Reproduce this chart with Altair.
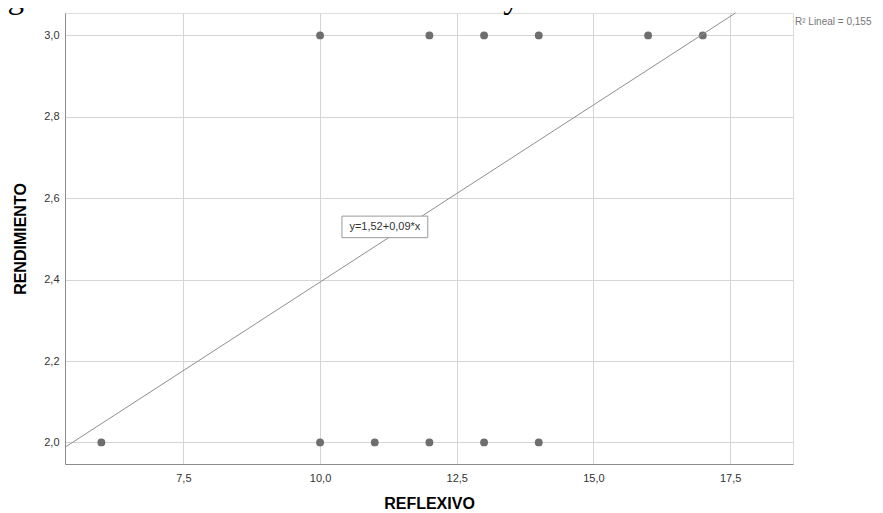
import altair as alt
import pandas as pd

# ---- data ----
reflexivo = [6, 10, 11, 12, 13, 14, 10, 12, 13, 14, 16, 17]
rendimiento = [2.0, 2.0, 2.0, 2.0, 2.0, 2.0, 3.0, 3.0, 3.0, 3.0, 3.0, 3.0]

x_domain = [5.335, 18.65]
y_domain = [1.947, 3.055]
x_ticks = [7.5, 10.0, 12.5, 15.0, 17.5]
y_ticks = [2.0, 2.2, 2.4, 2.6, 2.8, 3.0]

fit_intercept = 1.524
fit_slope = 0.087
fit_label = "y=1,52+0,09*x"
r2_label = "R\u00b2 Lineal = 0,155"

label_box_x = [10.40, 11.97]
label_box_y = [2.503, 2.556]
label_pos = [11.185, 2.529]

title_text = "Figura 2. La dimensión estilo reflexivo y su relación con el rendimiento"

# ---- tables ----
pts = pd.DataFrame({"REFLEXIVO": reflexivo, "RENDIMIENTO": rendimiento})
# fitted line from the left edge of the plot to where it leaves the top
fit_x = [x_domain[0], (y_domain[1] - fit_intercept) / fit_slope]
fit = pd.DataFrame({"x": fit_x,
                    "y": [fit_intercept + fit_slope * v for v in fit_x]})
box = pd.DataFrame({"x": [label_box_x[0]], "x2": [label_box_x[1]],
                    "y": [label_box_y[0]], "y2": [label_box_y[1]]})
lab = pd.DataFrame({"x": [label_pos[0]], "y": [label_pos[1]], "t": [fit_label]})
r2 = pd.DataFrame({"t": [r2_label]})
ttl = pd.DataFrame({"t": [title_text]})

comma = "replace(format(datum.value, '.1f'), '.', ',')"
FONT = "Liberation Sans"

xscale = alt.Scale(domain=x_domain, nice=False, zero=False)
yscale = alt.Scale(domain=y_domain, nice=False, zero=False)

xaxis = alt.Axis(values=x_ticks, labelExpr=comma, title="REFLEXIVO",
                 grid=True, gridColor="#d4d4d4", gridWidth=1,
                 domainColor="#8c8c8c", domainWidth=1, ticks=False,
                 labelFont=FONT, labelFontSize=11, labelColor="#333333",
                 labelPadding=8, titleFont=FONT, titleFontSize=16,
                 titleFontWeight="bold", titleColor="black", titlePadding=12)
yaxis = alt.Axis(values=y_ticks, labelExpr=comma, title="RENDIMIENTO",
                 grid=True, gridColor="#d4d4d4", gridWidth=1,
                 domainColor="#8c8c8c", domainWidth=1, ticks=False,
                 labelFont=FONT, labelFontSize=11, labelColor="#333333",
                 labelPadding=6, titleFont=FONT, titleFontSize=16,
                 titleFontWeight="bold", titleColor="black", titlePadding=15)

points = alt.Chart(pts).mark_circle(size=62, color="#6e6e6e", opacity=1).encode(
    x=alt.X("REFLEXIVO:Q", scale=xscale, axis=xaxis),
    y=alt.Y("RENDIMIENTO:Q", scale=yscale, axis=yaxis),
)

line = alt.Chart(fit).mark_line(color="#8f8f8f", strokeWidth=1).encode(
    x=alt.X("x:Q", scale=xscale),
    y=alt.Y("y:Q", scale=yscale),
)

rect = alt.Chart(box).mark_rect(fill="white", stroke="#9a9a9a", strokeWidth=1).encode(
    x=alt.X("x:Q", scale=xscale), x2="x2:Q",
    y=alt.Y("y:Q", scale=yscale), y2="y2:Q",
)

text = alt.Chart(lab).mark_text(font=FONT, fontSize=11, color="#333333",
                                align="center", baseline="middle").encode(
    x=alt.X("x:Q", scale=xscale),
    y=alt.Y("y:Q", scale=yscale),
    text="t:N",
)

r2text = alt.Chart(r2).mark_text(font=FONT, fontSize=10, color="#777777",
                                 align="left", baseline="middle").encode(
    x=alt.value(730), y=alt.value(9), text="t:N",
)

# figure caption, partly cut off by the top edge as in the reference
title = alt.Chart(ttl).mark_text(font="Liberation Serif", fontSize=33,
                                 color="black", align="left",
                                 baseline="alphabetic").encode(
    x=alt.value(-85), y=alt.value(-5), text="t:N",
)

chart = alt.layer(points, line, rect, text, r2text, title).properties(
    width=728, height=451,
    autosize=alt.AutoSizeParams(type="none"),
    padding={"left": 57, "top": 5, "right": 80, "bottom": 49},
).configure_view(stroke=None).configure(background="white")

chart.save("out.html", embed_options={"renderer": "svg", "actions": False})
